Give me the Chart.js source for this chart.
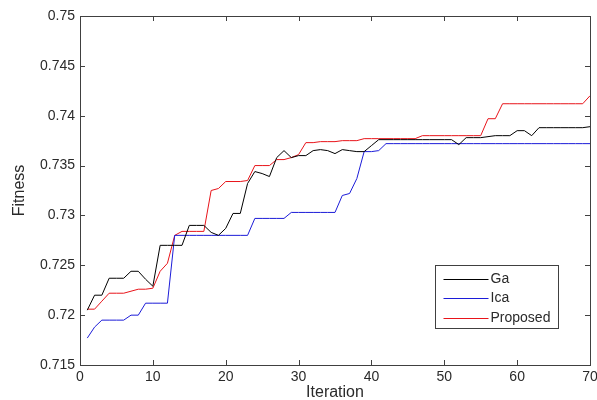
<!DOCTYPE html>
<html>
<head>
<meta charset="utf-8">
<script src="https://cdn.jsdelivr.net/npm/chart.js@4"></script>
<style>
html, body { margin: 0; padding: 0; background: #fff; }
</style>
</head>
<body>
<canvas id="fitnessChart" width="597" height="400"></canvas>
<script>
// Fitness per iteration
var iterations = [1, 2, 3, 4, 5, 6, 7, 8, 9, 10,
    11, 12, 13, 14, 15, 16, 17, 18, 19, 20,
    21, 22, 23, 24, 25, 26, 27, 28, 29, 30,
    31, 32, 33, 34, 35, 36, 37, 38, 39, 40,
    41, 42, 43, 44, 45, 46, 47, 48, 49, 50,
    51, 52, 53, 54, 55, 56, 57, 58, 59, 60,
    61, 62, 63, 64, 65, 66, 67, 68, 69, 70];

var gaValues = [0.7205, 0.7220, 0.7220, 0.7237, 0.7237, 0.7237, 0.7244, 0.7244, 0.7236, 0.7229,
    0.7270, 0.7270, 0.7270, 0.7270, 0.7290, 0.7290, 0.7290, 0.7283, 0.7280, 0.7287,
    0.7302, 0.7302, 0.7332, 0.7344, 0.7342, 0.7339, 0.7358, 0.7365, 0.7358, 0.7360,
    0.7360, 0.7365, 0.7366, 0.7365, 0.7362, 0.7366, 0.7365, 0.7364, 0.7364, 0.7370,
    0.7376, 0.7376, 0.7376, 0.7376, 0.7376, 0.7376, 0.7376, 0.7376, 0.7376, 0.7376,
    0.7376, 0.7371, 0.7378, 0.7378, 0.7378, 0.7379, 0.7380, 0.7380, 0.7380, 0.7385,
    0.7385, 0.7380, 0.7388, 0.7388, 0.7388, 0.7388, 0.7388, 0.7388, 0.7388, 0.7389];

var icaValues = [0.7177, 0.7188, 0.7195, 0.7195, 0.7195, 0.7195, 0.7200, 0.7200, 0.7212, 0.7212,
    0.7212, 0.7212, 0.7280, 0.7280, 0.7280, 0.7280, 0.7280, 0.7280, 0.7280, 0.7280,
    0.7280, 0.7280, 0.7280, 0.7297, 0.7297, 0.7297, 0.7297, 0.7297, 0.7303, 0.7303,
    0.7303, 0.7303, 0.7303, 0.7303, 0.7303, 0.7320, 0.7322, 0.7337, 0.7364, 0.7364,
    0.7365, 0.7372, 0.7372, 0.7372, 0.7372, 0.7372, 0.7372, 0.7372, 0.7372, 0.7372,
    0.7372, 0.7372, 0.7372, 0.7372, 0.7372, 0.7372, 0.7372, 0.7372, 0.7372, 0.7372,
    0.7372, 0.7372, 0.7372, 0.7372, 0.7372, 0.7372, 0.7372, 0.7372, 0.7372, 0.7372];

var proposedValues = [0.7206, 0.7206, 0.7214, 0.7222, 0.7222, 0.7222, 0.7224, 0.7226, 0.7226, 0.7227,
    0.7244, 0.7252, 0.7280, 0.7284, 0.7284, 0.7284, 0.7284, 0.7325, 0.7327, 0.7334,
    0.7334, 0.7334, 0.7335, 0.7350, 0.7350, 0.7350, 0.7356, 0.7356, 0.7358, 0.7361,
    0.7373, 0.7373, 0.7374, 0.7374, 0.7374, 0.7375, 0.7375, 0.7375, 0.7377, 0.7377,
    0.7377, 0.7377, 0.7377, 0.7377, 0.7377, 0.7377, 0.7380, 0.7380, 0.7380, 0.7380,
    0.7380, 0.7380, 0.7380, 0.7380, 0.7380, 0.7397, 0.7397, 0.7412, 0.7412, 0.7412,
    0.7412, 0.7412, 0.7412, 0.7412, 0.7412, 0.7412, 0.7412, 0.7412, 0.7412, 0.7420];

var seriesNames = ['Ga', 'Ica', 'Proposed'];
var xTicks = [0, 10, 20, 30, 40, 50, 60, 70];
var yTicks = [0.715, 0.72, 0.725, 0.73, 0.735, 0.74, 0.745, 0.75];

function toPoints(values) {
    return values.map(function(v, i) { return { x: iterations[i], y: v }; });
}

var axisColor = '#404040';
var textColor = '#2a2a2a';
var fontFamily = '"Liberation Sans", Arial, sans-serif';

// Matlab style box with inward ticks on all four sides
var matlabFrame = {
    id: 'matlabFrame',
    afterDatasetsDraw: function(chart) {
        var ctx = chart.ctx;
        var a = chart.chartArea;
        var xs = chart.scales.x;
        var ys = chart.scales.y;
        ctx.save();
        ctx.strokeStyle = axisColor;
        ctx.lineWidth = 1;
        ctx.beginPath();
        xs.ticks.forEach(function(t) {
            var px = Math.round(xs.getPixelForValue(t.value)) + 0.5;
            ctx.moveTo(px, a.bottom);
            ctx.lineTo(px, a.bottom - 5);
            ctx.moveTo(px, a.top);
            ctx.lineTo(px, a.top + 5);
        });
        ys.ticks.forEach(function(t) {
            var py = Math.round(ys.getPixelForValue(t.value)) + 0.5;
            ctx.moveTo(a.left, py);
            ctx.lineTo(a.left + 5, py);
            ctx.moveTo(a.right, py);
            ctx.lineTo(a.right - 5, py);
        });
        ctx.stroke();
        ctx.strokeRect(Math.round(a.left) + 0.5, Math.round(a.top) + 0.5,
            Math.round(a.right - a.left), Math.round(a.bottom - a.top));
        ctx.restore();
    },
    afterDraw: function(chart) {
        // legend box in the lower right corner
        var ctx = chart.ctx;
        var a = chart.chartArea;
        var boxW = 123, boxH = 63;
        var left = Math.round(a.right - 32 - boxW) + 0.5;
        var top = Math.round(a.bottom - 37 - boxH) + 0.5;
        ctx.save();
        ctx.fillStyle = '#fff';
        ctx.fillRect(left, top, boxW, boxH);
        ctx.strokeStyle = axisColor;
        ctx.lineWidth = 1;
        ctx.strokeRect(left, top, boxW, boxH);
        ctx.font = '14px ' + fontFamily;
        ctx.textBaseline = 'middle';
        ctx.fillStyle = textColor;
        chart.data.datasets.forEach(function(ds, i) {
            var cy = Math.round(top + 13 + i * 19.5) + 0.5;
            ctx.strokeStyle = ds.borderColor;
            ctx.beginPath();
            ctx.moveTo(left + 8, cy);
            ctx.lineTo(left + 53, cy);
            ctx.stroke();
            ctx.fillText(ds.label, left + 55, cy);
        });
        ctx.restore();
    }
};

var ctxFitness = document.getElementById('fitnessChart').getContext('2d');
var fitnessChart = new Chart(ctxFitness, {
    type: 'line',
    data: {
        datasets: [{
            label: seriesNames[0],
            data: toPoints(gaValues),
            borderColor: '#000000',
            borderWidth: 1
        }, {
            label: seriesNames[1],
            data: toPoints(icaValues),
            borderColor: '#1c1cd8',
            borderWidth: 1
        }, {
            label: seriesNames[2],
            data: toPoints(proposedValues),
            borderColor: '#e8141a',
            borderWidth: 1
        }]
    },
    options: {
        responsive: false,
        animation: false,
        devicePixelRatio: 1,
        elements: {
            point: { radius: 0 },
            line: { tension: 0 }
        },
        layout: {
            padding: { left: 0, right: 7, top: 16, bottom: 0 }
        },
        plugins: {
            legend: { display: false },
            tooltip: { enabled: false }
        },
        scales: {
            x: {
                type: 'linear',
                min: 0,
                max: 70,
                afterBuildTicks: function(s) {
                    s.ticks = xTicks.map(function(v) { return { value: v }; });
                },
                afterFit: function(s) {
                    s.height = 35;
                    s.paddingLeft = 0;
                    s.paddingRight = 0;
                },
                grid: { display: false, drawTicks: false },
                border: { display: false },
                ticks: {
                    padding: 4,
                    color: textColor,
                    font: { family: fontFamily, size: 14 },
                    maxRotation: 0
                },
                title: {
                    display: true,
                    text: 'Iteration',
                    color: textColor,
                    font: { family: fontFamily, size: 16 },
                    padding: { top: 0, bottom: -2 }
                }
            },
            y: {
                min: 0.715,
                max: 0.75,
                afterBuildTicks: function(s) {
                    s.ticks = yTicks.map(function(v) { return { value: v }; });
                },
                afterFit: function(s) {
                    s.width = 80;
                },
                grid: { display: false, drawTicks: false },
                border: { display: false },
                ticks: {
                    padding: 5,
                    color: textColor,
                    font: { family: fontFamily, size: 14 },
                    callback: function(v) { return String(+v.toFixed(3)); }
                },
                title: {
                    display: true,
                    text: 'Fitness',
                    color: textColor,
                    font: { family: fontFamily, size: 16 },
                    padding: { top: 9.5, bottom: 0 }
                }
            }
        }
    },
    plugins: [matlabFrame]
});
</script>
</body>
</html>
